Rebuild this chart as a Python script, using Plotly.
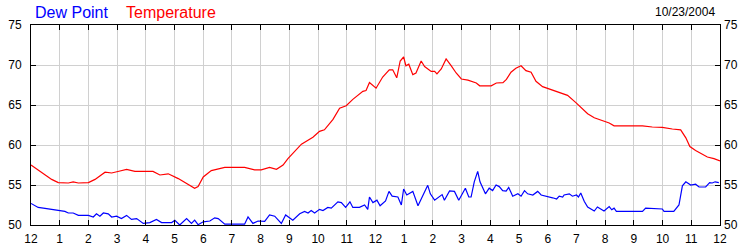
import plotly.graph_objects as go

# ---- data ----
temp_hours = [0, 0.25, 0.49, 0.72, 0.95, 1.3, 1.47, 1.65, 2.0, 2.23, 2.58, 2.81, 3.1, 3.33, 3.62,
              4.25, 4.49, 4.78, 5.13, 5.42, 5.7, 5.82, 6.0, 6.28, 6.5, 6.75, 7.44, 7.79, 8.02,
              8.31, 8.55, 8.78, 8.95, 9.12, 9.42, 9.82, 10.05, 10.22, 10.52, 10.75, 10.98, 11.21,
              11.56, 11.67, 11.79, 12.02, 12.25, 12.48, 12.6, 12.74, 12.86, 12.98, 13.06, 13.16,
              13.3, 13.41, 13.59, 13.71, 13.94, 14.06, 14.14, 14.29, 14.46, 14.64, 14.81, 14.99,
              15.22, 15.51, 15.63, 16.03, 16.21, 16.44, 16.56, 16.72, 16.89, 17.07, 17.24, 17.42,
              17.59, 17.82, 17.99, 18.23, 18.46, 18.69, 18.98, 19.21, 19.39, 19.62, 19.91, 20.14,
              20.31, 21.3, 21.64, 21.99, 22.34, 22.63, 22.81, 22.95, 23.15, 23.38, 23.56, 23.79, 24.0]
temp_values = [57.5, 56.9, 56.25, 55.7, 55.3, 55.25, 55.4, 55.25, 55.3, 55.7, 56.6, 56.5, 56.75, 56.95, 56.7,
               56.7, 56.25, 56.4, 55.8, 55.2, 54.6, 54.8, 56.0, 56.8, 56.95, 57.2, 57.2, 56.9, 56.9,
               57.2, 56.96, 57.5, 58.3, 58.96, 60.1, 60.96, 61.7, 61.9, 63.2, 64.6, 64.9, 65.7,
               66.7, 66.8, 67.8, 67.1, 68.5, 69.4, 69.4, 68.4, 70.5, 71.0, 69.9, 70.1,
               68.8, 69.0, 70.5, 69.8, 69.2, 69.2, 68.9, 69.5, 70.75, 69.9, 69.0, 68.25,
               68.1, 67.75, 67.4, 67.4, 67.75, 67.8, 68.2, 69.1, 69.6, 69.9, 69.3, 69.1,
               67.96, 67.3, 67.1, 66.8, 66.5, 66.2, 65.3, 64.5, 63.9, 63.4, 63.0, 62.75,
               62.4, 62.4, 62.25, 62.2, 62.0, 61.9, 60.9, 59.8, 59.3, 58.9, 58.5, 58.3, 58.0]

dew_hours = [0, 0.25, 0.43, 0.66, 0.95, 1.18, 1.3, 1.47, 1.65, 2.0, 2.17, 2.28, 2.4, 2.52, 2.69, 2.81,
             2.98, 3.15, 3.33, 3.5, 3.68, 3.91, 4.14, 4.37, 4.55, 4.9, 5.01, 5.18, 5.42, 5.59, 5.7,
             5.82, 6.0, 6.23, 6.4, 6.52, 6.75, 7.44, 7.56, 7.73, 7.91, 8.14, 8.31, 8.49, 8.72, 8.87,
             9.12, 9.36, 9.53, 9.65, 9.76, 9.88, 10.05, 10.17, 10.34, 10.46, 10.69, 10.81, 10.96,
             11.11, 11.21, 11.44, 11.62, 11.73, 11.79, 11.91, 12.05, 12.16, 12.35, 12.47, 12.58,
             12.78, 12.9, 12.98, 13.09, 13.3, 13.48, 13.71, 13.82, 13.91, 14.06, 14.32, 14.4, 14.58,
             14.75, 14.9, 15.13, 15.25, 15.33, 15.44, 15.56, 15.64, 15.83, 15.96, 16.08, 16.2, 16.31,
             16.43, 16.55, 16.64, 16.78, 16.96, 17.07, 17.19, 17.3, 17.48, 17.65, 17.77, 17.99,
             18.17, 18.31, 18.4, 18.52, 18.57, 18.75, 18.86, 19.0, 19.07, 19.15, 19.27, 19.39,
             19.62, 19.73, 19.96, 20.14, 20.23, 20.31, 20.39, 21.3, 21.41, 21.99, 22.05, 22.39,
             22.57, 22.69, 22.81, 22.98, 23.15, 23.27, 23.5, 23.64, 23.73, 23.83, 23.96]
dew_values = [52.7, 52.2, 52.1, 51.96, 51.75, 51.7, 51.5, 51.5, 51.2, 51.2, 51.0, 51.4, 51.1, 51.5, 51.4, 51.0,
              51.1, 50.8, 51.2, 50.7, 50.8, 50.2, 50.3, 50.7, 50.3, 50.3, 50.6, 50.0, 50.8, 50.2, 50.6,
              50.04, 50.4, 50.5, 50.9, 50.8, 50.1, 50.1, 51.0, 50.2, 50.5, 50.45, 51.25, 51.1, 50.2, 51.25,
              50.6, 51.4, 51.7, 51.5, 51.8, 51.5, 51.96, 51.8, 52.2, 52.1, 52.9, 52.8, 52.2,
              52.9, 52.2, 52.2, 52.5, 51.96, 53.5, 52.8, 53.1, 52.4, 53.0, 54.2, 53.6,
              53.5, 52.5, 54.5, 53.75, 54.2, 52.4, 54.0, 54.96, 53.9, 53.1, 53.8, 53.1, 54.25,
              54.2, 53.1, 54.6, 53.5, 53.5, 55.4, 56.7, 55.4, 53.9, 54.6, 54.3, 55.0, 54.8,
              54.3, 54.25, 54.7, 53.6, 53.9, 53.6, 54.3, 53.9, 53.75, 54.2, 53.75, 53.6,
              53.4, 53.25, 53.6, 53.5, 53.75, 53.9, 53.6, 53.75, 53.5, 54.0, 52.96, 52.25,
              51.75, 52.25, 51.75, 52.3, 51.9, 52.1, 51.7, 51.7, 52.1, 52.0, 51.7, 51.7,
              52.5, 54.9, 55.4, 55.0, 55.1, 54.75, 54.75, 55.3, 55.25, 55.4, 55.3]

tick_hours = list(range(0, 25))
tick_labels = ["12", "1", "2", "3", "4", "5", "6", "7", "8", "9", "10", "11",
               "12", "1", "2", "3", "4", "5", "6", "7", "8", "9", "10", "11", "12"]
y_ticks = [50, 55, 60, 65, 70, 75]
date_label = "10/23/2004"

FONT = "Liberation Sans, Arial, sans-serif"
GRID = "#d0d0d0"

fig = go.Figure()
fig.add_trace(go.Scatter(x=temp_hours, y=temp_values, mode="lines",
                         line=dict(color="#ff0000", width=1.2), yaxis="y", hoverinfo="skip"))
fig.add_trace(go.Scatter(x=dew_hours, y=dew_values, mode="lines",
                         line=dict(color="#0000ff", width=1.2), yaxis="y2", hoverinfo="skip"))

fig.update_layout(
    width=750, height=250,
    margin=dict(l=31, r=30, t=25, b=25, pad=0),
    paper_bgcolor="white", plot_bgcolor="white",
    showlegend=False,
    font=dict(family=FONT, size=12, color="black"),
    xaxis=dict(range=[0, 24], tickvals=tick_hours, ticktext=tick_labels,
               showgrid=True, gridcolor=GRID, gridwidth=1,
               showline=True, linecolor="black", linewidth=1, mirror="ticks",
               ticks="inside", ticklen=5, tickcolor="black", tickwidth=1,
               ticklabelstandoff=3, automargin=False,
               tickfont=dict(size=12, family=FONT, color="black"),
               zeroline=False, fixedrange=True),
    yaxis=dict(range=[50, 75], tickvals=y_ticks,
               showgrid=True, gridcolor=GRID, gridwidth=1,
               showline=True, linecolor="black", linewidth=1, mirror="ticks",
               ticks="inside", ticklen=5, tickcolor="black", tickwidth=1,
               ticklabelstandoff=6, automargin=False,
               tickfont=dict(size=12, family=FONT, color="black"),
               zeroline=False, fixedrange=True),
    yaxis2=dict(range=[50, 75], tickvals=y_ticks, overlaying="y", side="right",
                showgrid=False, showline=False, ticks="",
                ticklabelstandoff=3, automargin=False,
                tickfont=dict(size=12, family=FONT, color="black"),
                zeroline=False, fixedrange=True),
    annotations=[
        dict(text="Dew Point", xref="paper", yref="paper", x=2 / 689, y=1 + 13 / 200,
             xanchor="left", yanchor="middle", showarrow=False,
             font=dict(family=FONT, size=16, color="#0000ff")),
        dict(text="Temperature", xref="paper", yref="paper", x=93 / 689, y=1 + 13 / 200,
             xanchor="left", yanchor="middle", showarrow=False,
             font=dict(family=FONT, size=16, color="#ff0000")),
        dict(text=date_label, xref="paper", yref="paper", x=(717 - 31) / 689, y=1 + 13 / 200,
             xanchor="right", yanchor="middle", showarrow=False,
             font=dict(family=FONT, size=12, color="black")),
    ],
)

fig.write_html("out.html", config={"displayModeBar": False})
